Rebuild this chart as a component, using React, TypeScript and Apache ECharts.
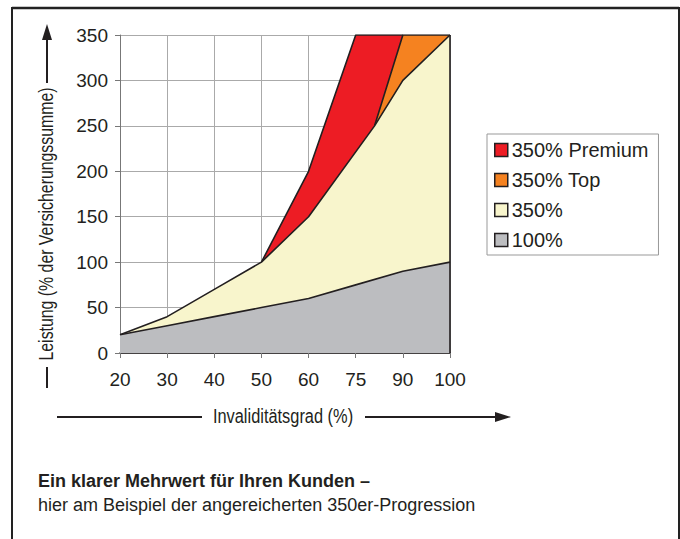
import React, { useEffect, useRef } from "react";
import * as echarts from "echarts";

const categories = ["20", "30", "40", "50", "60", "75", "90", "100"];
const yTicks = [0, 50, 100, 150, 200, 250, 300, 350];
// x positions are category indices (0..7); 5.4 is the kink between 75 and 90
const premiumX = [3, 4, 5, 6];
const premiumY = [100, 200, 350, 350];
const topX = [5.4, 6, 7];
const topY = [250, 350, 350];
const p350X = [0, 1, 2, 3, 4, 5.4, 6, 7];
const p350Y = [20, 40, 70, 100, 150, 250, 300, 350];
const p100X = [0, 1, 2, 3, 4, 5, 6, 7];
const p100Y = [20, 30, 40, 50, 60, 75, 90, 100];

const names = ["350% Premium", "350% Top", "350%", "100%"];
const colors = ["#ed1c24", "#f58220", "#f8f5cc", "#bcbdc0"];

const zip = (xs: number[], ys: number[]) => xs.map((x, i) => [x, ys[i]]);

const LINE = "#231f20";
const FONT = "'Liberation Sans', Arial, Helvetica, sans-serif";

export default function App() {
  const ref = useRef<HTMLDivElement>(null);
  useEffect(() => {
    if (!ref.current) return;
    const chart = echarts.init(ref.current, undefined, { renderer: "svg" });
    const areaSeries = (name: string, color: string, data: number[][], z: number) => ({
      name,
      type: "line",
      data,
      showSymbol: false,
      symbol: "none",
      z,
      itemStyle: { color },
      lineStyle: { color: LINE, width: 1.6 },
      areaStyle: { color, opacity: 1, origin: "start" },
      emphasis: { disabled: true },
    });
    chart.setOption({
      animation: false,
      backgroundColor: "#fff",
      grid: { left: 120, top: 35, width: 330, height: 318 },
      xAxis: {
        type: "value",
        min: 0,
        max: 7,
        interval: 1,
        axisLine: { show: true, lineStyle: { color: LINE, width: 1.5 } },
        axisTick: { show: true, length: 5, lineStyle: { color: "#777" } },
        axisLabel: {
          formatter: (v: number) => categories[Math.round(v)] ?? "",
          color: LINE,
          fontSize: 19,
          fontFamily: FONT,
          margin: 17,
        },
        splitLine: { show: true, lineStyle: { color: "#aaa", width: 1 } },
      },
      yAxis: {
        type: "value",
        min: 0,
        max: 350,
        interval: 50,
        axisLine: { show: true, lineStyle: { color: "#777", width: 1 } },
        axisTick: { show: true, length: 5, lineStyle: { color: "#777" } },
        axisLabel: {
          formatter: (v: number) => (yTicks.includes(v) ? String(v) : ""),
          color: LINE,
          fontSize: 19,
          fontFamily: FONT,
          margin: 12,
        },
        splitLine: { show: true, lineStyle: { color: "#aaa", width: 1 } },
      },
      legend: {
        orient: "vertical",
        left: 487,
        top: 134,
        data: names,
        icon: "rect",
        itemWidth: 13,
        itemHeight: 13,
        itemGap: 10,
        padding: [6, 10, 5, 7],
        borderColor: "#999",
        borderWidth: 1,
        selectedMode: false,
        itemStyle: { borderColor: LINE, borderWidth: 1.5 },
        textStyle: { fontSize: 20, fontFamily: FONT, color: LINE, lineHeight: 20, padding: [0, 0, 0, -1] },
      },
      series: [
        areaSeries(names[0], colors[0], zip(premiumX, premiumY), 2),
        areaSeries(names[1], colors[1], zip(topX, topY), 3),
        areaSeries(names[2], colors[2], zip(p350X, p350Y), 4),
        areaSeries(names[3], colors[3], zip(p100X, p100Y), 5),
        {
          type: "line",
          data: [
            [7, 0],
            [7, 350],
          ],
          showSymbol: false,
          symbol: "none",
          z: 6,
          lineStyle: { color: LINE, width: 1.6 },
          silent: true,
        },
      ],
      graphic: [
        { type: "line", shape: { x1: 12, y1: 8, x2: 679, y2: 8 }, style: { stroke: "#222", lineWidth: 2.5 } },
        { type: "line", shape: { x1: 12, y1: 7, x2: 12, y2: 539 }, style: { stroke: "#222", lineWidth: 2 } },
        { type: "line", shape: { x1: 679, y1: 7, x2: 679, y2: 539 }, style: { stroke: "#222", lineWidth: 2 } },
        // y axis name + arrow
        {
          type: "text",
          x: 46,
          y: 224,
          rotation: Math.PI / 2,
          scaleX: 0.755,
          style: {
            text: "Leistung (% der Versicherungssumme)",
            fontSize: 21,
            fontFamily: FONT,
            fill: LINE,
            align: "center",
            verticalAlign: "middle",
          },
        },
        { type: "line", shape: { x1: 47, y1: 83, x2: 47, y2: 36 }, style: { stroke: LINE, lineWidth: 2 } },
        { type: "polygon", shape: { points: [[47, 24], [42, 40], [52, 40]] }, style: { fill: LINE } },
        { type: "line", shape: { x1: 47, y1: 367, x2: 47, y2: 388 }, style: { stroke: LINE, lineWidth: 2 } },
        // x axis name + arrow
        {
          type: "text",
          x: 283,
          y: 416,
          scaleX: 0.78,
          style: {
            text: "Invaliditätsgrad (%)",
            fontSize: 21,
            fontFamily: FONT,
            fill: LINE,
            align: "center",
            verticalAlign: "middle",
          },
        },
        { type: "line", shape: { x1: 57, y1: 417, x2: 202, y2: 417 }, style: { stroke: LINE, lineWidth: 2 } },
        { type: "line", shape: { x1: 365, y1: 417, x2: 498, y2: 417 }, style: { stroke: LINE, lineWidth: 2 } },
        { type: "polygon", shape: { points: [[511, 417], [495, 412], [495, 422]] }, style: { fill: LINE } },
        // caption
        {
          type: "text",
          x: 38,
          y: 481,
          style: {
            text: "Ein klarer Mehrwert für Ihren Kunden –",
            fontSize: 18,
            fontWeight: "bold",
            fontFamily: FONT,
            fill: LINE,
            verticalAlign: "middle",
          },
        },
        {
          type: "text",
          x: 38,
          y: 505,
          style: {
            text: "hier am Beispiel der angereicherten 350er-Progression",
            fontSize: 18,
            fontFamily: FONT,
            fill: LINE,
            verticalAlign: "middle",
          },
        },
      ],
    });
    return () => chart.dispose();
  }, []);
  return (
    <div
      ref={ref}
      style={{ position: "fixed", left: 0, top: 0, width: 680, height: 539 }}
    />
  );
}
